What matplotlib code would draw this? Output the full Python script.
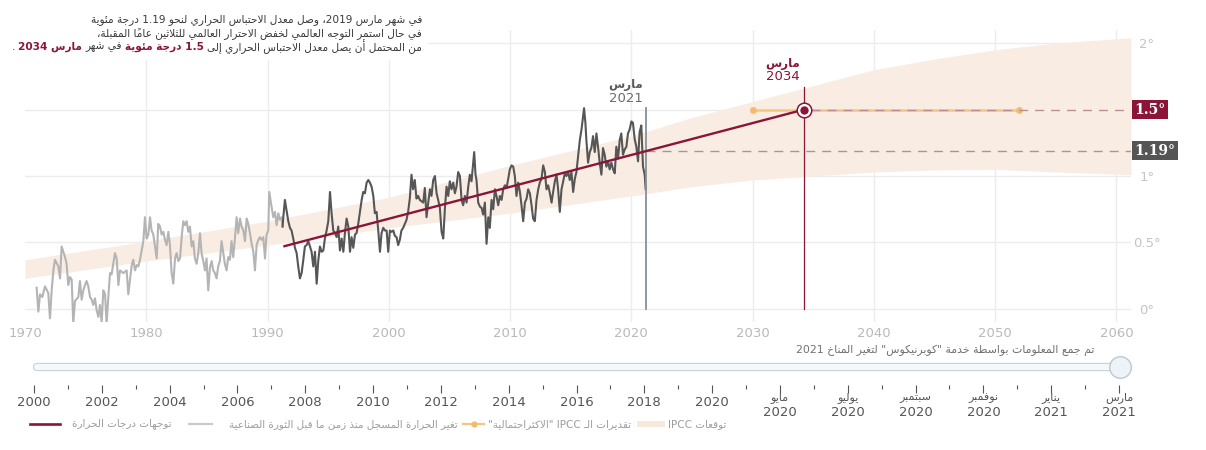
import matplotlib
matplotlib.use('Agg')
import matplotlib.pyplot as plt
from matplotlib.lines import Line2D
from matplotlib.patches import Rectangle
from matplotlib.transforms import blended_transform_factory as blend

plt.rcParams['font.family'] = ['DejaVu Sans']

# ---------------- data ----------------
temp_years = [
    1970.96, 1971.10, 1971.24, 1971.43, 1971.65, 1971.92, 1972.06, 1972.20, 1972.34, 1972.47,
    1972.75, 1972.89, 1973.02, 1973.30, 1973.43, 1973.57, 1973.71, 1973.85, 1973.98, 1974.12,
    1974.40, 1974.53, 1974.67, 1974.81, 1974.95, 1975.08, 1975.22, 1975.36, 1975.50, 1975.63,
    1975.77, 1975.91, 1976.05, 1976.18, 1976.32, 1976.46, 1976.60, 1976.73, 1976.87, 1977.01,
    1977.14, 1977.42, 1977.56, 1977.70, 1977.83, 1978.11, 1978.38, 1978.52, 1978.66, 1978.80,
    1978.93, 1979.07, 1979.21, 1979.35, 1979.48, 1979.62, 1979.76, 1979.89, 1980.03, 1980.17,
    1980.31, 1980.44, 1980.58, 1980.72, 1980.86, 1980.99, 1981.13, 1981.27, 1981.41, 1981.54,
    1981.68, 1981.82, 1981.95, 1982.09, 1982.23, 1982.37, 1982.50, 1982.64, 1982.78, 1982.92,
    1983.05, 1983.19, 1983.33, 1983.46, 1983.60, 1983.74, 1983.88, 1984.01, 1984.15, 1984.29,
    1984.43, 1984.56, 1984.70, 1984.84, 1984.97, 1985.11, 1985.25, 1985.39, 1985.52, 1985.66,
    1985.80, 1985.93, 1986.07, 1986.21, 1986.35, 1986.48, 1986.62, 1986.76, 1986.90, 1987.03,
    1987.17, 1987.31, 1987.45, 1987.58, 1987.73, 1987.86, 1988.00, 1988.14, 1988.28, 1988.41,
    1988.55, 1988.69, 1988.83, 1988.96, 1989.10, 1989.24, 1989.37, 1989.51, 1989.65, 1989.79,
    1989.92, 1990.06, 1990.14, 1990.33, 1990.47, 1990.61, 1990.75, 1990.89, 1991.02, 1991.16,
    1991.24,
    1991.30, 1991.43, 1991.57, 1991.71, 1991.85, 1991.98, 1992.12, 1992.26, 1992.40, 1992.53,
    1992.67, 1992.81, 1992.95, 1993.08, 1993.22, 1993.36, 1993.50, 1993.63, 1993.77, 1993.91,
    1994.05, 1994.18, 1994.32, 1994.46, 1994.60, 1994.73, 1994.87, 1995.01, 1995.15, 1995.28,
    1995.42, 1995.56, 1995.70, 1995.83, 1995.97, 1996.11, 1996.25, 1996.38, 1996.52, 1996.66,
    1996.80, 1996.93, 1997.07, 1997.21, 1997.34, 1997.48, 1997.62, 1997.76, 1997.89, 1998.03,
    1998.17, 1998.31, 1998.44, 1998.58, 1998.72, 1998.85, 1998.99, 1999.13, 1999.27, 1999.40,
    1999.54, 1999.68, 1999.82, 1999.95, 2000.09, 2000.23, 2000.37, 2000.50, 2000.64, 2000.77,
    2000.91, 2001.04, 2001.18, 2001.32, 2001.46, 2001.59, 2001.73, 2001.87, 2002.00, 2002.14,
    2002.28, 2002.42, 2002.56, 2002.84, 2002.97, 2003.11, 2003.25, 2003.39, 2003.52, 2003.66,
    2003.80, 2003.94, 2004.07, 2004.21, 2004.35, 2004.49, 2004.62, 2004.76, 2004.90, 2005.03,
    2005.17, 2005.31, 2005.45, 2005.58, 2005.72, 2005.86, 2006.00, 2006.13, 2006.27, 2006.41,
    2006.55, 2006.68, 2006.82, 2006.96, 2007.04, 2007.15, 2007.23, 2007.37, 2007.51, 2007.65,
    2007.78, 2007.92, 2008.06, 2008.20, 2008.33, 2008.47, 2008.61, 2008.75, 2008.88, 2009.02,
    2009.16, 2009.30, 2009.43, 2009.57, 2009.71, 2009.85, 2009.98, 2010.12, 2010.26, 2010.39,
    2010.53, 2010.67, 2010.81, 2010.94, 2011.08, 2011.22, 2011.36, 2011.49, 2011.63, 2011.77,
    2011.90, 2012.04, 2012.18, 2012.32, 2012.45, 2012.59, 2012.73, 2012.87, 2013.00, 2013.14,
    2013.28, 2013.42, 2013.55, 2013.69, 2013.83, 2013.96, 2014.10, 2014.24, 2014.38, 2014.51,
    2014.65, 2014.79, 2014.92, 2015.06, 2015.20, 2015.34, 2015.47, 2015.61, 2015.75, 2015.89,
    2016.02, 2016.10, 2016.21, 2016.29, 2016.43, 2016.57, 2016.70, 2016.84, 2016.98, 2017.12,
    2017.25, 2017.39, 2017.53, 2017.66, 2017.80, 2017.94, 2018.08, 2018.21, 2018.35, 2018.49,
    2018.63, 2018.76, 2018.90, 2019.04, 2019.17, 2019.31, 2019.45, 2019.59, 2019.72, 2019.86,
    2020.00, 2020.13, 2020.27, 2020.41, 2020.55, 2020.68, 2020.82, 2020.96, 2021.10, 2021.18,
]
temp_vals = [
    0.16, -0.02, 0.11, 0.09, 0.17, 0.12, -0.07, 0.14, 0.29, 0.37,
    0.32, 0.23, 0.47, 0.39, 0.34, 0.18, 0.24, 0.22, -0.11, 0.06,
    0.09, 0.21, 0.07, 0.14, 0.18, 0.21, 0.17, 0.09, 0.07, 0.03,
    0.08, -0.01, -0.06, 0.03, -0.10, 0.14, 0.11, -0.11, 0.09, 0.27,
    0.26, 0.42, 0.38, 0.18, 0.29, 0.27, 0.29, 0.11, 0.22, 0.33,
    0.37, 0.29, 0.33, 0.32, 0.37, 0.44, 0.51, 0.69, 0.53, 0.56,
    0.69, 0.59, 0.56, 0.47, 0.38, 0.64, 0.62, 0.56, 0.58, 0.52,
    0.48, 0.58, 0.48, 0.27, 0.19, 0.38, 0.42, 0.36, 0.38, 0.54,
    0.66, 0.63, 0.66, 0.58, 0.62, 0.47, 0.51, 0.38, 0.34, 0.42,
    0.57, 0.42, 0.36, 0.29, 0.38, 0.14, 0.31, 0.36, 0.29, 0.27,
    0.23, 0.32, 0.36, 0.51, 0.42, 0.34, 0.29, 0.39, 0.37, 0.51,
    0.39, 0.53, 0.69, 0.57, 0.68, 0.62, 0.59, 0.51, 0.68, 0.64,
    0.57, 0.49, 0.43, 0.29, 0.48, 0.52, 0.54, 0.52, 0.54, 0.38,
    0.56, 0.59, 0.88, 0.77, 0.69, 0.73, 0.63, 0.72, 0.67, 0.69,
    0.62,
    0.69, 0.82, 0.74, 0.66, 0.61, 0.59, 0.53, 0.46, 0.42, 0.32,
    0.23, 0.27, 0.37, 0.47, 0.48, 0.51, 0.47, 0.43, 0.32, 0.43,
    0.19, 0.36, 0.47, 0.43, 0.44, 0.53, 0.59, 0.66, 0.88, 0.72,
    0.59, 0.57, 0.54, 0.62, 0.44, 0.53, 0.43, 0.57, 0.68, 0.62,
    0.43, 0.54, 0.46, 0.56, 0.57, 0.64, 0.73, 0.82, 0.88, 0.87,
    0.95, 0.97, 0.95, 0.92, 0.85, 0.72, 0.73, 0.59, 0.43, 0.57,
    0.61, 0.59, 0.59, 0.43, 0.59, 0.58, 0.59, 0.55, 0.54, 0.48,
    0.52, 0.59, 0.61, 0.64, 0.67, 0.73, 0.83, 1.01, 0.90, 0.97,
    0.83, 0.85, 0.82, 0.80, 0.91, 0.69, 0.80, 0.90, 0.85, 0.97,
    1.00, 0.87, 0.82, 0.76, 0.58, 0.53, 0.75, 0.92, 0.85, 0.96,
    0.90, 0.95, 0.87, 0.92, 1.03, 1.00, 0.82, 0.78, 0.85, 0.80,
    0.92, 1.01, 0.96, 1.10, 1.18, 1.01, 0.97, 0.80, 0.77, 0.76,
    0.71, 0.80, 0.49, 0.69, 0.61, 0.82, 0.75, 0.90, 0.85, 0.78,
    0.85, 0.82, 0.90, 0.93, 0.91, 0.98, 1.05, 1.08, 1.07, 1.00,
    0.85, 0.95, 0.88, 0.78, 0.66, 0.80, 0.83, 0.90, 0.87, 0.78,
    0.68, 0.66, 0.82, 0.90, 0.95, 0.98, 1.08, 1.03, 0.90, 0.93,
    0.87, 0.80, 0.88, 0.96, 1.01, 0.90, 0.73, 0.90, 0.96, 1.02,
    1.00, 1.03, 0.97, 1.03, 0.88, 0.98, 1.03, 1.15, 1.27, 1.35,
    1.45, 1.51, 1.40, 1.27, 1.10, 1.18, 1.21, 1.30, 1.18, 1.32,
    1.22, 1.10, 1.01, 1.21, 1.16, 1.07, 1.11, 1.05, 1.10, 1.05,
    1.02, 1.22, 1.13, 1.27, 1.32, 1.16, 1.20, 1.22, 1.32, 1.35,
    1.41, 1.40, 1.28, 1.22, 1.11, 1.33, 1.38, 1.07, 1.01, 0.90,
]
split_year = 1991.27          # older record (light) vs. recent record (dark)

band_years = [1970, 1980, 1990, 2000, 2010, 2020, 2025, 2030, 2035, 2040, 2045, 2050, 2055, 2061.2]
band_low = [0.23, 0.36, 0.48, 0.61, 0.72, 0.85, 0.92, 0.97, 1.00, 1.03, 1.045, 1.05, 1.03, 1.01]
band_high = [0.37, 0.51, 0.66, 0.84, 1.08, 1.30, 1.44, 1.56, 1.68, 1.80, 1.88, 1.95, 2.00, 2.04]

trend_years = [1991.3, 2034.25]
trend_vals = [0.47, 1.5]
ipcc_years = [2030, 2052]
ipcc_level = 1.5
current_year = 2021.2
current_level = 1.19
target_year = 2034.25
target_level = 1.5

x_ticks = [1970, 1980, 1990, 2000, 2010, 2020, 2030, 2040, 2050, 2060]
y_ticks = [0, 0.5, 1, 1.5, 2]
y_labels = ['0°', '0.5°', '1°', '', '2°']   # 1.5° is shown by the value box

slider_years = ['2000', '2002', '2004', '2006', '2008', '2010', '2012', '2014', '2016', '2018',
                '2020', '2020', '2020', '2020', '2020', '2021', '2021']
slider_months = ['', '', '', '', '', '', '', '', '', '', '',
                 'مايو', 'يوليو', 'سبتمبر', 'نوفمبر', 'يناير', 'مارس']

legend_labels = ['توجهات درجات الحرارة',
                 'تغير الحرارة المسجل منذ زمن ما قبل الثورة الصناعية',
                 'تقديرات الـ IPCC "الاكثراحتمالية"',
                 'توقعات IPCC']

title_lines = ['في شهر مارس 2019، وصل معدل الاحتباس الحراري لنحو 1.19 درجة مئوية',
               'في حال استمر التوجه العالمي لخفض الاحترار العالمي للثلاثين عاماً المقبلة،']
title_line3 = [('من المحتمل أن يصل معدل الاحتباس الحراري إلى', 'n'),
               ('1.5 درجة مئوية', 'h'),
               ('في شهر', 'n'),
               ('مارس 2034', 'h'),
               ('.', 'n')]
source_text = 'تم جمع المعلومات بواسطة خدمة "كوبرنيكوس" لتغير المناخ 2021'
month_label = 'مارس'

# ---------------- Arabic shaping (presentation forms) + simple bidi ----------------
_FOUR = {'ئ': 0xFE89, 'ب': 0xFE8F, 'ت': 0xFE95, 'ث': 0xFE99, 'ج': 0xFE9D, 'ح': 0xFEA1,
         'خ': 0xFEA5, 'س': 0xFEB1, 'ش': 0xFEB5, 'ص': 0xFEB9, 'ض': 0xFEBD, 'ط': 0xFEC1,
         'ظ': 0xFEC5, 'ع': 0xFEC9, 'غ': 0xFECD, 'ف': 0xFED1, 'ق': 0xFED5, 'ك': 0xFED9,
         'ل': 0xFEDD, 'م': 0xFEE1, 'ن': 0xFEE5, 'ه': 0xFEE9, 'ي': 0xFEF1}
_TWO = {'آ': 0xFE81, 'أ': 0xFE83, 'ؤ': 0xFE85, 'إ': 0xFE87, 'ا': 0xFE8D, 'ة': 0xFE93,
        'د': 0xFEA9, 'ذ': 0xFEAB, 'ر': 0xFEAD, 'ز': 0xFEAF, 'و': 0xFEED, 'ى': 0xFEEF}
_LAMALEF = {'ا': 0xFEFB, 'أ': 0xFEF7, 'إ': 0xFEF9, 'آ': 0xFEF5}


def _is_mark(c):
    return '\u064B' <= c <= '\u0652'


def _is_ar(c):
    return '\u0600' <= c <= '\u06FF' or '\uFE70' <= c <= '\uFEFF'


def _shape(word):
    units = []
    chars = list(word)
    i = 0
    while i < len(chars):
        c = chars[i]
        if _is_mark(c):
            if units:
                units[-1][3] += c
            else:
                units.append([c, 'U', None, ''])
            i += 1
            continue
        if c == 'ل' and i + 1 < len(chars) and chars[i + 1] in _LAMALEF:
            units.append(['', 'R', _LAMALEF[chars[i + 1]], ''])
            i += 2
            continue
        if c in _FOUR:
            units.append([c, 'D', _FOUR[c], ''])
        elif c in _TWO:
            units.append([c, 'R', _TWO[c], ''])
        elif c == 'ـ':
            units.append([c, 'C', None, ''])
        else:
            units.append([c, 'U', None, ''])
        i += 1
    out = []
    n = len(units)
    for k, (c, kind, base, marks) in enumerate(units):
        pj = k > 0 and units[k - 1][1] in ('D', 'C')
        nj = k < n - 1 and units[k + 1][1] in ('D', 'R', 'C')
        if kind == 'D':
            idx = 3 if (pj and nj) else 1 if pj else 2 if nj else 0
            g = chr(base + idx)
        elif kind == 'R':
            g = chr(base + (1 if pj else 0))
        else:
            g = c
        out.append(g + marks)
    return out


def _rtl_line(line):
    vis = []
    for w in line.split(' '):
        runs, cur, cur_ar = [], '', None
        for c in w:
            a = _is_ar(c)
            if cur and a != cur_ar:
                runs.append((cur, cur_ar))
                cur = ''
            cur += c
            cur_ar = a
        if cur:
            runs.append((cur, cur_ar))
        parts = []
        for r, a in reversed(runs):
            parts.append(''.join(reversed(_shape(r))) if a else r)
        vis.append(''.join(parts))
    return ' '.join(reversed(vis))


def rtl(text):
    return '\n'.join(_rtl_line(l) for l in text.split('\n'))


# ---------------- figure ----------------
W, H = 1206, 450
fig = plt.figure(figsize=(W / 100, H / 100), dpi=100)
fig.patch.set_facecolor('white')


def fx(px):
    return px / W


def fy(py):
    return 1 - py / H


RED = '#8a1538'
DARK = '#565656'
LIGHT = '#b4b4b4'
GRID = '#ececec'

ax = fig.add_axes([fx(25), fy(322), fx(1131) - fx(25), fy(30) - fy(322)])
ax.set_xlim(1970, 2061.2)
ax.set_ylim(-0.098, 2.098)
for s in ax.spines.values():
    s.set_visible(False)
ax.set_facecolor('none')

for v in y_ticks:
    ax.axhline(v, color=GRID, lw=1, zorder=0)
for v in x_ticks[1:]:
    ax.axvline(v, color=GRID, lw=1, zorder=0)

ax.set_xticks(x_ticks)
ax.set_xticklabels([str(v) for v in x_ticks])
ax.tick_params(axis='x', length=0, pad=3.5, labelsize=9.5, labelcolor='#b9b9b9')
ax.yaxis.tick_right()
ax.set_yticks(y_ticks)
ax.set_yticklabels(y_labels)
ax.tick_params(axis='y', length=0, pad=11.5, labelsize=9.5, labelcolor='#c4c4c4')
for lab in ax.get_yticklabels():
    lab.set_horizontalalignment('center')

# IPCC band
ax.fill_between(band_years, band_low, band_high, color='#f9ede3', lw=0, zorder=1)

# temperature record
k = next(i for i, y in enumerate(temp_years) if y > split_year)
ax.plot(temp_years[:k], temp_vals[:k], color=LIGHT, lw=1.5, zorder=2, solid_joinstyle='round')
ax.plot(temp_years[k - 1:], temp_vals[k - 1:], color=DARK, lw=1.5, zorder=3, solid_joinstyle='round')

# reference dashed lines
ax.plot([current_year, 2061.2], [current_level, current_level], color='#9b9b9b', lw=1,
        dashes=(6.5, 5), zorder=2)
ax.plot(ipcc_years, [ipcc_level, ipcc_level], color='#f6c580', lw=1.8, zorder=3,
        marker='o', ms=5, mfc='#f4bb6c', mec='none')
ax.plot([target_year + 0.6, 2061.2], [target_level, target_level], color='#b98f98', lw=1,
        dashes=(6.5, 5), zorder=4)

# vertical markers
ax.plot([current_year, current_year], [0, 1.51], color='#86909b', lw=1.3, zorder=4)
ax.plot([target_year, target_year], [0, 1.67], color=RED, lw=0.9, zorder=4)

# trend
ax.plot(trend_years, trend_vals, color=RED, lw=1.7, zorder=5, solid_capstyle='butt')

# target marker
ax.plot([target_year], [target_level], 'o', ms=10.5, mfc='white', mec=RED, mew=1.1, zorder=6)
ax.plot([target_year], [target_level], 'o', ms=6, mfc=RED, mec='none', zorder=7)

# labels above vertical lines
ax.text(current_year - 1.65, 1.69, rtl(month_label), ha='center', va='center', fontsize=8.5,
        color='#5a5a5a', fontweight='bold', zorder=6)
ax.text(current_year - 1.65, 1.58, '2021', ha='center', va='center', fontsize=9.5,
        color='#6a6a6a', zorder=6)
ax.text(target_year - 1.75, 1.845, rtl(month_label), ha='center', va='center', fontsize=8.5,
        color=RED, fontweight='bold', zorder=6)
ax.text(target_year - 1.75, 1.745, '2034', ha='center', va='center', fontsize=9.5,
        color=RED, zorder=6)

# value boxes on the right
tr = blend(ax.transAxes, ax.transData)
ax.annotate('1.5°', xy=(1.0, target_level), xycoords=tr, xytext=(2.2, 0), textcoords='offset points',
            ha='left', va='center', fontsize=10, fontweight='bold', family='DejaVu Serif',
            color='white', zorder=8, annotation_clip=False,
            bbox=dict(boxstyle='square,pad=0.18', fc=RED, ec='none'))
ax.annotate('1.19°', xy=(1.0, current_level), xycoords=tr, xytext=(2.2, 0), textcoords='offset points',
            ha='left', va='center', fontsize=10, fontweight='bold', family='DejaVu Serif',
            color='white', zorder=8, annotation_clip=False,
            bbox=dict(boxstyle='square,pad=0.18', fc='#555555', ec='none'))

# ---------------- title block (top left) ----------------
fig.add_artist(Rectangle((0, fy(60)), fx(428), 60 / H, transform=fig.transFigure,
                         fc='white', ec='none', zorder=5))
renderer = fig.canvas.get_renderer()
TXT = '#3a3a3a'
TSIZE = 7.6
for i, line in enumerate(title_lines):
    fig.text(fx(422), fy(20 + 13.5 * i), rtl(line), ha='right', va='center', fontsize=TSIZE,
             color=TXT, zorder=6)
x = 422
for seg, kind in title_line3:
    t = fig.text(fx(x), fy(47), rtl(seg), ha='right', va='center', fontsize=TSIZE,
                 color=RED if kind == 'h' else TXT, fontweight='bold' if kind == 'h' else 'normal',
                 zorder=6)
    bb = t.get_window_extent(renderer=renderer)
    x = bb.x0 - 3.2

# source note
fig.text(fx(1094), fy(350), rtl(source_text), ha='right', va='center', fontsize=7.8, color='#707070')

# ---------------- time slider ----------------
axs = fig.add_axes([fx(34), fy(385), fx(1119) - fx(34), fy(355) - fy(385)])
axs.set_xlim(0, len(slider_years) - 1)
axs.set_ylim(0, 1)
axs.set_facecolor('none')
for s in axs.spines.values():
    s.set_visible(False)
axs.set_yticks([])
axs.set_xticks(range(len(slider_years)))
axs.set_xticks([i + 0.5 for i in range(len(slider_years) - 1)], minor=True)
axs.tick_params(axis='x', which='major', length=5.5, width=0.8, color='#555555', labelbottom=False)
axs.tick_params(axis='x', which='minor', length=3, width=0.8, color='#555555', labelbottom=False)
axs.plot([0.045, 16.03], [0.6, 0.6], color='#c6d0da', lw=6, solid_capstyle='round', clip_on=False)
axs.plot([0.045, 16.03], [0.6, 0.6], color='#f5f8fb', lw=4.4, solid_capstyle='round', clip_on=False)
axs.plot([16.015], [0.6], 'o', ms=15.5, mfc='#eef3f8', mec='#bcc7d2', mew=1, clip_on=False)

ts = blend(axs.transData, fig.transFigure)
for i, (yr, mo) in enumerate(zip(slider_years, slider_months)):
    if mo:
        axs.text(i, fy(398), rtl(mo), transform=ts, ha='center', va='center', fontsize=8.0,
                 color='#555555')
        axs.text(i, fy(413), yr, transform=ts, ha='center', va='center', fontsize=9.5,
                 color='#555555')
    else:
        axs.text(i, fy(402), yr, transform=ts, ha='center', va='center', fontsize=9.5,
                 color='#555555')

# ---------------- legend ----------------
LY = fy(424)
LCOL = '#9c9c9c'
LSIZE = 7.5


def leg_line(x0, x1, **kw):
    fig.add_artist(Line2D([fx(x0), fx(x1)], [LY, LY], transform=fig.transFigure, **kw))


def leg_text(x0, s):
    t = fig.text(fx(x0), LY, rtl(s), ha='left', va='center', fontsize=LSIZE, color=LCOL)
    return t.get_window_extent(renderer=renderer).x1


x = 30
leg_line(x, x + 30, color=RED, lw=1.9)
x = leg_text(x + 42, legend_labels[0]) + 17
leg_line(x, x + 23, color='#c9c9c9', lw=1.6)
x = leg_text(x + 40, legend_labels[1]) + 6
leg_line(x, x + 21, color='#f6c580', lw=1.6)
fig.add_artist(Line2D([fx(x + 10.5)], [LY], transform=fig.transFigure, marker='o', ms=4.5,
                      mfc='#f4bb6c', mec='none', lw=0))
x = leg_text(x + 25, legend_labels[2]) + 5
fig.add_artist(Rectangle((fx(x), LY - 3 / H), fx(29), 6 / H, transform=fig.transFigure,
                         fc='#f8e9dd', ec='none'))
leg_text(x + 32, legend_labels[3])

fig.savefig('out.png', dpi=100, facecolor='white')
